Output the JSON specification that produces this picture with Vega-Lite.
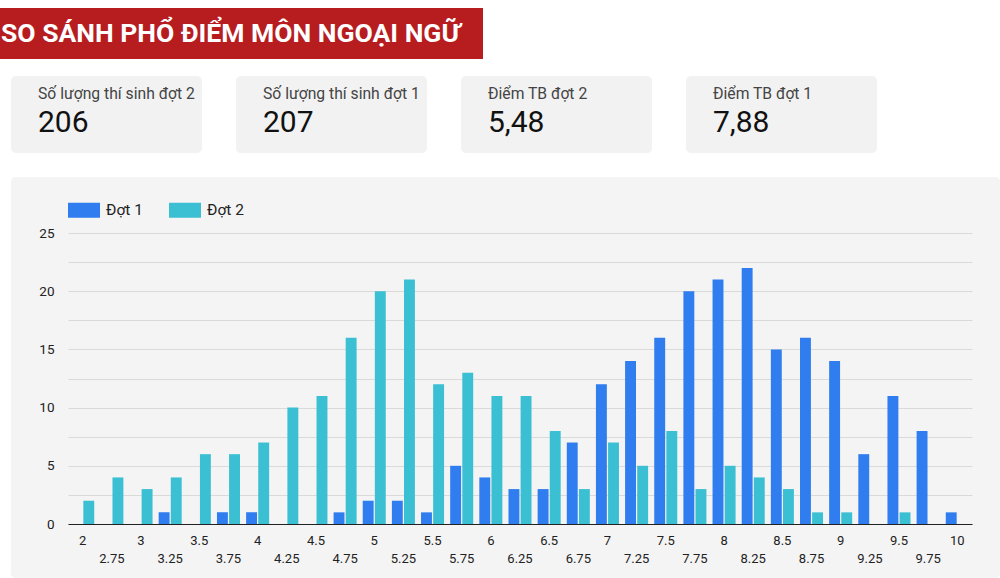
{
  "$schema": "https://vega.github.io/schema/vega-lite/v6.json",
  "background": "#ffffff",
  "padding": {"top": 8, "left": 0, "right": 0, "bottom": 0},
  "config": {
    "font": "Roboto",
    "view": {"stroke": null}
  },
  "spacing": 17,
  "vconcat": [
    {
      "width": 472,
      "height": 51,
      "data": {"values": [{"title": "SO SÁNH PHỔ ĐIỂM MÔN NGOẠI NGỮ"}]},
      "layer": [
        {
          "mark": {"type": "rect", "color": "#b71c1f"},
          "encoding": {
            "x": {"datum": 0, "type": "quantitative", "scale": {"domain": [0, 1], "range": [-11, 472]}, "axis": null},
            "x2": {"datum": 1},
            "y": {"datum": 0, "type": "quantitative", "scale": {"domain": [0, 1]}, "axis": null},
            "y2": {"datum": 1}
          }
        },
        {
          "mark": {"type": "text", "align": "left", "baseline": "alphabetic", "dx": 1, "fontSize": 26.5, "fontWeight": "bold", "color": "#ffffff"},
          "encoding": {
            "x": {"datum": 0, "type": "quantitative"},
            "y": {"datum": 0.34, "type": "quantitative"},
            "text": {"field": "title"}
          }
        }
      ]
    },
    {
      "width": 866,
      "height": 84,
      "data": {
        "values": [
          {"label": "Số lượng thí sinh đợt 2", "value": "206"},
          {"label": "Số lượng thí sinh đợt 1", "value": "207"},
          {"label": "Điểm TB đợt 2", "value": "5,48"},
          {"label": "Điểm TB đợt 1", "value": "7,88"}
        ]
      },
      "encoding": {
        "x": {"field": "label", "type": "nominal", "sort": null, "scale": {"paddingInner": 0.151, "paddingOuter": 0}, "axis": null}
      },
      "layer": [
        {
          "mark": {"type": "rect", "color": "#f2f2f2", "cornerRadius": 5},
          "encoding": {
            "y": {"datum": 0, "type": "quantitative", "scale": {"domain": [0, 1], "range": [77, 0]}, "axis": null},
            "y2": {"datum": 1}
          }
        },
        {
          "mark": {"type": "text", "align": "left", "baseline": "alphabetic", "dx": 27, "fontSize": 15.7, "color": "#444444"},
          "encoding": {
            "x": {"field": "label", "type": "nominal", "sort": null, "bandPosition": 0},
            "y": {"datum": 0.7, "type": "quantitative"},
            "text": {"field": "label"}
          }
        },
        {
          "mark": {"type": "text", "align": "left", "baseline": "alphabetic", "dx": 27, "fontSize": 30, "color": "#111111"},
          "encoding": {
            "x": {"field": "label", "type": "nominal", "sort": null, "bandPosition": 0},
            "y": {"datum": 0.273, "type": "quantitative"},
            "text": {"field": "value"}
          }
        }
      ]
    },
    {
      "width": 989,
      "height": 401,
      "view": {"fill": "#f4f4f4", "stroke": null, "cornerRadius": 4},
      "data": {
        "values": [
          {"diem": 2, "dot": "Đợt 1", "so": 0}, {"diem": 2, "dot": "Đợt 2", "so": 2},
          {"diem": 2.75, "dot": "Đợt 1", "so": 0}, {"diem": 2.75, "dot": "Đợt 2", "so": 4},
          {"diem": 3, "dot": "Đợt 1", "so": 0}, {"diem": 3, "dot": "Đợt 2", "so": 3},
          {"diem": 3.25, "dot": "Đợt 1", "so": 1}, {"diem": 3.25, "dot": "Đợt 2", "so": 4},
          {"diem": 3.5, "dot": "Đợt 1", "so": 0}, {"diem": 3.5, "dot": "Đợt 2", "so": 6},
          {"diem": 3.75, "dot": "Đợt 1", "so": 1}, {"diem": 3.75, "dot": "Đợt 2", "so": 6},
          {"diem": 4, "dot": "Đợt 1", "so": 1}, {"diem": 4, "dot": "Đợt 2", "so": 7},
          {"diem": 4.25, "dot": "Đợt 1", "so": 0}, {"diem": 4.25, "dot": "Đợt 2", "so": 10},
          {"diem": 4.5, "dot": "Đợt 1", "so": 0}, {"diem": 4.5, "dot": "Đợt 2", "so": 11},
          {"diem": 4.75, "dot": "Đợt 1", "so": 1}, {"diem": 4.75, "dot": "Đợt 2", "so": 16},
          {"diem": 5, "dot": "Đợt 1", "so": 2}, {"diem": 5, "dot": "Đợt 2", "so": 20},
          {"diem": 5.25, "dot": "Đợt 1", "so": 2}, {"diem": 5.25, "dot": "Đợt 2", "so": 21},
          {"diem": 5.5, "dot": "Đợt 1", "so": 1}, {"diem": 5.5, "dot": "Đợt 2", "so": 12},
          {"diem": 5.75, "dot": "Đợt 1", "so": 5}, {"diem": 5.75, "dot": "Đợt 2", "so": 13},
          {"diem": 6, "dot": "Đợt 1", "so": 4}, {"diem": 6, "dot": "Đợt 2", "so": 11},
          {"diem": 6.25, "dot": "Đợt 1", "so": 3}, {"diem": 6.25, "dot": "Đợt 2", "so": 11},
          {"diem": 6.5, "dot": "Đợt 1", "so": 3}, {"diem": 6.5, "dot": "Đợt 2", "so": 8},
          {"diem": 6.75, "dot": "Đợt 1", "so": 7}, {"diem": 6.75, "dot": "Đợt 2", "so": 3},
          {"diem": 7, "dot": "Đợt 1", "so": 12}, {"diem": 7, "dot": "Đợt 2", "so": 7},
          {"diem": 7.25, "dot": "Đợt 1", "so": 14}, {"diem": 7.25, "dot": "Đợt 2", "so": 5},
          {"diem": 7.5, "dot": "Đợt 1", "so": 16}, {"diem": 7.5, "dot": "Đợt 2", "so": 8},
          {"diem": 7.75, "dot": "Đợt 1", "so": 20}, {"diem": 7.75, "dot": "Đợt 2", "so": 3},
          {"diem": 8, "dot": "Đợt 1", "so": 21}, {"diem": 8, "dot": "Đợt 2", "so": 5},
          {"diem": 8.25, "dot": "Đợt 1", "so": 22}, {"diem": 8.25, "dot": "Đợt 2", "so": 4},
          {"diem": 8.5, "dot": "Đợt 1", "so": 15}, {"diem": 8.5, "dot": "Đợt 2", "so": 3},
          {"diem": 8.75, "dot": "Đợt 1", "so": 16}, {"diem": 8.75, "dot": "Đợt 2", "so": 1},
          {"diem": 9, "dot": "Đợt 1", "so": 14}, {"diem": 9, "dot": "Đợt 2", "so": 1},
          {"diem": 9.25, "dot": "Đợt 1", "so": 6}, {"diem": 9.25, "dot": "Đợt 2", "so": 0},
          {"diem": 9.5, "dot": "Đợt 1", "so": 11}, {"diem": 9.5, "dot": "Đợt 2", "so": 1},
          {"diem": 9.75, "dot": "Đợt 1", "so": 8}, {"diem": 9.75, "dot": "Đợt 2", "so": 0},
          {"diem": 10, "dot": "Đợt 1", "so": 1}, {"diem": 10, "dot": "Đợt 2", "so": 0}
        ]
      },
      "mark": {"type": "bar"},
      "encoding": {
        "x": {
          "field": "diem",
          "type": "ordinal",
          "scale": {"range": [57, 961], "paddingInner": 0.21, "paddingOuter": 0.11},
          "axis": {
            "title": null,
            "orient": "bottom",
            "offset": -54,
            "zindex": 1,
            "domainColor": "#222222",
            "ticks": false,
            "tickSize": 0,
            "labelAngle": 0,
            "labelPadding": 10,
            "labelBaseline": "top",
            "labelLineHeight": 18,
            "labelFontSize": 13,
            "labelColor": "#222222",
            "labelOverlap": false,
            "labelExpr": "(datum.value * 4) % 2 === 1 ? ['', datum.label] : datum.label"
          }
        },
        "xOffset": {"field": "dot", "scale": {"paddingInner": 0.1}},
        "y": {
          "field": "so",
          "type": "quantitative",
          "scale": {"domain": [0, 25], "range": [347, 56], "nice": false},
          "axis": {
            "title": null,
            "offset": -57,
            "domain": false,
            "ticks": false,
            "tickSize": 0,
            "labelPadding": 14,
            "values": [0, 2.5, 5, 7.5, 10, 12.5, 15, 17.5, 20, 22.5, 25],
            "labelExpr": "datum.value % 5 === 0 ? datum.label : ''",
            "gridColor": "#dadada",
            "labelFontSize": 13.5,
            "labelColor": "#222222"
          }
        },
        "color": {
          "field": "dot",
          "type": "nominal",
          "scale": {"domain": ["Đợt 1", "Đợt 2"], "range": ["#2f7def", "#3bbfd2"]},
          "legend": {
            "title": null,
            "orient": "none",
            "legendX": 57,
            "legendY": 186,
            "direction": "horizontal",
            "symbolType": "M-1,-0.46875H1V0.46875H-1Z",
            "symbolSize": 1024,
            "symbolStrokeWidth": 0,
            "labelFontSize": 15.5,
            "labelOffset": 6,
            "labelColor": "#222222",
            "columnPadding": 26,
            "padding": 0
          }
        }
      }
    }
  ]
}
